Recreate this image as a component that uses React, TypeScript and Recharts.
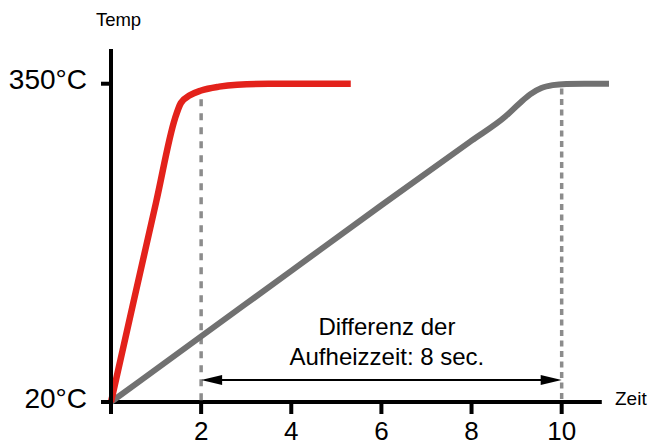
import { LineChart, Line, XAxis, YAxis, ReferenceLine, Label } from 'recharts';

// Zeit in Sekunden, Temperatur in °C
const redTime = [0, 0.5, 1, 1.42, 1.55, 1.75, 2, 2.4, 2.8, 3.5, 5.32];
const redTemp = [20, 124, 227, 314, 330, 338, 343, 347, 349, 350, 350];
const grayTime = [0, 2, 4, 6, 8, 8.75, 9.05, 9.3, 9.55, 9.8, 10.1, 10.5, 11.05];
const grayTemp = [20, 88, 156, 224, 291, 316, 329, 339, 345.5, 348.5, 349.8, 350, 350];

const xTicks = [0, 2, 4, 6, 8, 10];
const yTicks = [20, 350];
const markerLines = [
  { x: 2, top: 334, dash: '7 7' },
  { x: 10, top: 345, dash: '6 4.5' },
];
const arrowTemp = 42.8;
const noteLines = ['Differenz der', 'Aufheizzeit: 8 sec.'];

const FONT = '"Liberation Sans", Arial, Helvetica, sans-serif';

const redData = redTime.map((t, i) => ({ t, v: redTemp[i] }));
const grayData = grayTime.map((t, i) => ({ t, v: grayTemp[i] }));

const YTick = (p: any) => (
  <text x={p.x} y={p.y + 5.5} textAnchor="end" fontSize={28} fontFamily={FONT} fill="#000">
    {p.payload.value}°C
  </text>
);

const XTick = (p: any) =>
  p.payload.value === 0 ? null : (
    <text x={p.x} y={p.y + 26} textAnchor="middle" fontSize={26} fontFamily={FONT} fill="#000">
      {p.payload.value}
    </text>
  );

const arrowShape = (p: any) => {
  const { x1, y1, x2 } = p;
  const h = 21;
  const w = 5;
  const mid = (x1 + x2) / 2 + 5.5;
  return (
    <g>
      <line x1={x1 + h - 2} y1={y1} x2={x2 - h + 2} y2={y1} stroke="#000" strokeWidth={2} />
      <polygon points={`${x1},${y1} ${x1 + h},${y1 - w} ${x1 + h},${y1 + w}`} fill="#000" />
      <polygon points={`${x2},${y1} ${x2 - h},${y1 - w} ${x2 - h},${y1 + w}`} fill="#000" />
      {noteLines.map((s, i) => (
        <text
          key={s}
          x={mid}
          y={y1 - 45.4 + i * 30.2}
          textAnchor="middle"
          fontSize={24}
          fontFamily={FONT}
          fill="#000"
        >
          {s}
        </text>
      ))}
    </g>
  );
};

export default function App() {
  return (
    <div style={{ position: 'absolute', left: 0, top: 0, background: '#fff', fontFamily: FONT }}>
      <LineChart width={649} height={446} margin={{ top: 49, right: 40, bottom: 14, left: 51 }}>
        <XAxis
          type="number"
          dataKey="t"
          domain={[0, 11.05]}
          ticks={xTicks}
          allowDuplicatedCategory={false}
          axisLine={false}
          tickSize={12}
          tickMargin={0}
          tickLine={{ stroke: '#000', strokeWidth: 4 }}
          tick={XTick}
          height={30}
        >
          <Label
            content={(lp: any) => (
              <text
                x={lp.viewBox.x + lp.viewBox.width + 6}
                y={lp.viewBox.y + 3}
                fontSize={19}
                fontFamily={FONT}
                fill="#000"
              >
                Zeit
              </text>
            )}
          />
        </XAxis>
        <YAxis
          type="number"
          domain={[20, 386]}
          ticks={yTicks}
          width={60}
          axisLine={{ stroke: '#000', strokeWidth: 4 }}
          tickSize={10}
          tickMargin={14}
          tickLine={{ stroke: '#000', strokeWidth: 4 }}
          tick={YTick}
        >
          <Label
            content={(lp: any) => (
              <text
                x={lp.viewBox.x + lp.viewBox.width + 7.5}
                y={lp.viewBox.y - 23}
                textAnchor="middle"
                fontSize={18.5}
                fontFamily={FONT}
                fill="#000"
              >
                Temp
              </text>
            )}
          />
        </YAxis>
        <ReferenceLine
          segment={[{ x: -0.18, y: 20 }, { x: 10.89, y: 20 }]}
          stroke="#000"
          strokeWidth={4}
          ifOverflow="visible"
        />
        {markerLines.map((m) => (
          <ReferenceLine
            key={m.x}
            segment={[{ x: m.x, y: m.top }, { x: m.x, y: 20 }]}
            stroke="#8c8c8c"
            strokeWidth={3.5}
            strokeDasharray={m.dash}
            ifOverflow="visible"
          />
        ))}
        <ReferenceLine
          segment={[{ x: 2, y: arrowTemp }, { x: 10, y: arrowTemp }]}
          shape={arrowShape}
          ifOverflow="visible"
        />
        <Line
          data={grayData}
          dataKey="v"
          type="monotone"
          stroke="#717171"
          strokeWidth={6}
          dot={false}
          isAnimationActive={false}
        />
        <Line
          data={redData}
          dataKey="v"
          type="monotone"
          stroke="#e3221b"
          strokeWidth={6.5}
          dot={false}
          isAnimationActive={false}
        />
      </LineChart>
    </div>
  );
}
